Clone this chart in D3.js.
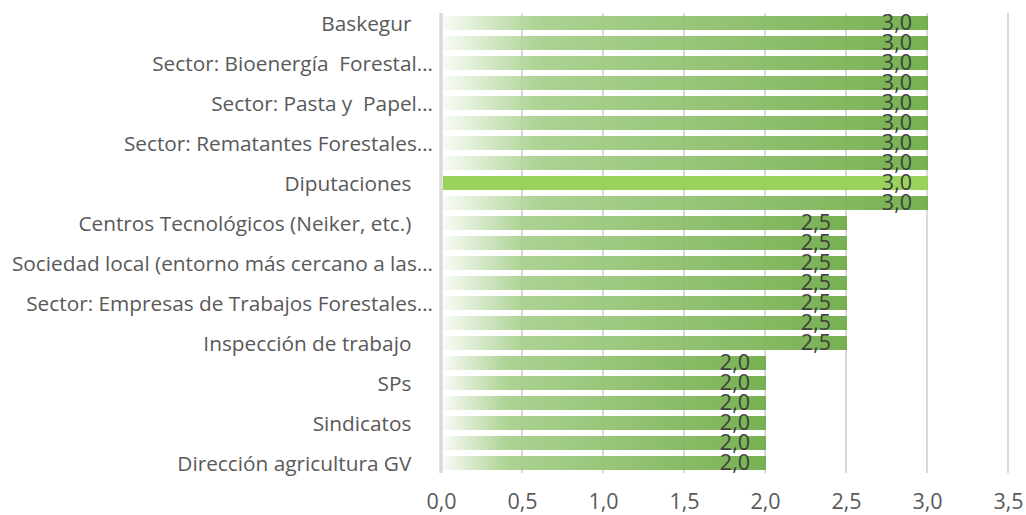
<!DOCTYPE html>
<meta charset="utf-8">
<head>
	<style type="text/css">
		body { margin: 0; background: #fff; }
		text { font-family: "Open Sans", sans-serif; }
		.cat text { font-size: 20.8px; fill: #595959; white-space: pre; }
		.xaxis text { font-size: 21.5px; fill: #595959; }
		.val { font-size: 21.5px; fill: #404040; }
	</style>
</head>

<script src="https://cdn.jsdelivr.net/npm/d3@7"></script>

<svg width="1026" height="515" id="svg1"></svg>

<script>
	// one value per bar, top to bottom
	const values = [3.0, 3.0, 3.0, 3.0, 3.0, 3.0, 3.0, 3.0, 3.0, 3.0,
	                2.5, 2.5, 2.5, 2.5, 2.5, 2.5, 2.5,
	                2.0, 2.0, 2.0, 2.0, 2.0, 2.0];
	// only every other bar carries a label in the picture
	const shownLabels = [
		'Baskegur',
		'Sector: Bioenergía  Forestal…',
		'Sector: Pasta y  Papel…',
		'Sector: Rematantes Forestales…',
		'Diputaciones',
		'Centros Tecnológicos (Neiker, etc.)',
		'Sociedad local (entorno más cercano a las…',
		'Sector: Empresas de Trabajos Forestales…',
		'Inspección de trabajo',
		'SPs',
		'Sindicatos',
		'Dirección agricultura GV'
	];
	const highlightBar = 8; // Diputaciones
	const xTicks = [0, 0.5, 1, 1.5, 2, 2.5, 3, 3.5];

	const svg1 = d3.select('#svg1');

	const x = d3.scaleLinear().domain([0, 3.5]).range([441, 1008]);
	const y = d3.scaleBand()
				.domain(d3.range(values.length))
				.range([13, 473])
				.paddingInner(0.3)
				.paddingOuter(0.15);

	const fmt = v => d3.format('.1f')(v).replace('.', ',');
	const labelFor = i => {
		const s = shownLabels[i / 2];
		// untruncated labels carry trailing blanks, as in the original
		return s.endsWith('…') ? s : s + '\u00a0\u00a0\u00a0\u00a0';
	};

	// gradient for the regular bars
	const defs = svg1.append('defs');
	const grad = defs.append('linearGradient')
					.attr('id', 'barGrad')
					.attr('x1', '0%').attr('x2', '100%')
					.attr('y1', '0%').attr('y2', '0%');
	grad.append('stop').attr('offset', '0%').attr('stop-color', '#f8fbf5');
	grad.append('stop').attr('offset', '20%').attr('stop-color', '#a6cf8a');
	grad.append('stop').attr('offset', '100%').attr('stop-color', '#6dab44');

	// gridlines
	svg1.append('g')
		.selectAll('line')
		.data(xTicks.slice(1))
		.enter()
			.append('line')
				.attr('x1', d => x(d)).attr('x2', d => x(d))
				.attr('y1', 13).attr('y2', 473)
				.attr('stroke', '#d9d9d9')
				.attr('stroke-width', 2);

	// bars
	svg1.append('g')
		.selectAll('rect')
		.data(values)
		.enter()
			.append('rect')
				.attr('x', x(0) + 2)
				.attr('y', (d, i) => y(i))
				.attr('width', d => x(d) - x(0) - 1)
				.attr('height', y.bandwidth())
				.attr('fill', (d, i) => i === highlightBar ? '#92d050' : 'url(#barGrad)')
				.attr('fill-opacity', 0.93);

	// vertical axis line
	svg1.append('line')
		.attr('x1', x(0)).attr('x2', x(0))
		.attr('y1', 13).attr('y2', 473)
		.attr('stroke', '#d9d9d9')
		.attr('stroke-width', 3.5);

	// value labels
	svg1.append('g')
		.selectAll('text')
		.data(values)
		.enter()
			.append('text')
				.attr('class', 'val')
				.attr('text-anchor', 'end')
				.attr('x', d => x(d) - 15)
				.attr('y', (d, i) => y(i) + 14)
				.text(fmt);

	// category axis
	const yAxis = d3.axisLeft(y)
					.tickValues(d3.range(0, values.length, 2))
					.tickFormat(labelFor)
					.tickSize(0)
					.tickPadding(0);
	svg1.append('g')
		.attr('class', 'cat')
		.attr('transform', 'translate(433,0)')
		.call(yAxis)
		.call(g => g.select('.domain').remove());
	svg1.selectAll('.cat text').attr('dy', '0.36em');

	// value axis
	const xAxis = d3.axisBottom(x)
					.tickValues(xTicks)
					.tickFormat(fmt)
					.tickSize(0)
					.tickPadding(0);
	svg1.append('g')
		.attr('class', 'xaxis')
		.attr('transform', 'translate(0,496)')
		.call(xAxis)
		.call(g => g.select('.domain').remove());
	svg1.selectAll('.xaxis text').attr('dy', '0.6em');
</script>
